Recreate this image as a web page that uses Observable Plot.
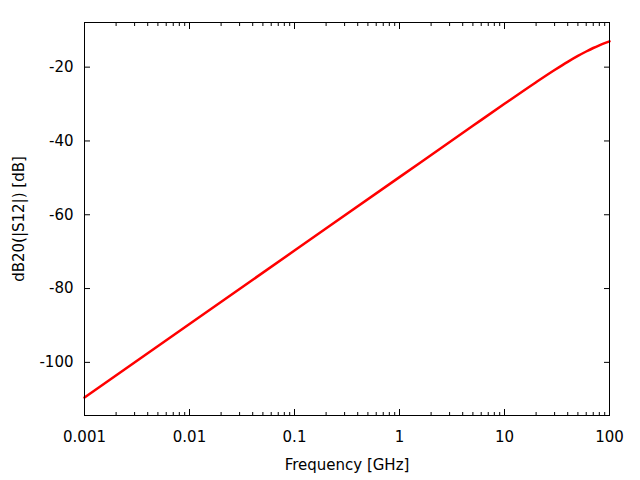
<!DOCTYPE html>
<html>
<head>
<meta charset="utf-8">
<script src="https://cdn.jsdelivr.net/npm/d3@7"></script>
<script src="https://cdn.jsdelivr.net/npm/@observablehq/plot@0.6"></script>
<style>
  html, body { margin: 0; padding: 0; background: white; }
</style>
</head>
<body>
<div id="chart"></div>
<script>
// Frequency in GHz and dB20(|S12|)
const freqGHz = [0.001, 0.01, 0.1, 1, 5, 10, 20, 30, 40, 50, 60, 70, 80, 90, 100];
const s12dB   = [-109.5, -89.6, -69.7, -49.8, -35.9, -29.94, -24.08, -20.78, -18.56, -16.96, -15.76, -14.81, -14.08, -13.49, -13.01];

const xMajorTicks = [0.001, 0.01, 0.1, 1, 10, 100];
const xTickLabels = ["0.001", "0.01", "0.1", "1", "10", "100"];
const xMinorTicks = [0.001, 0.01, 0.1, 1, 10].flatMap(d => [2,3,4,5,6,7,8,9].map(m => +(d * m).toPrecision(3)));
const yTicks = [-100, -80, -60, -40, -20];
const yTickLabels = ["-100", "-80", "-60", "-40", "-20"];

const data = freqGHz.map((f, i) => ({f, db: s12dB[i]}));

const fmtX = d => xTickLabels[xMajorTicks.indexOf(d)];
const fmtY = d => yTickLabels[yTicks.indexOf(d)];

const chart = Plot.plot({
  width: 640,
  height: 480,
  marginLeft: 84,
  marginRight: 31,
  marginTop: 22,
  marginBottom: 65,
  style: {fontFamily: "DejaVu Sans", fontSize: "15px", color: "black", background: "white"},
  x: {type: "log", domain: [0.001, 100]},
  y: {domain: [-114.4, -7.9]},
  marks: [
    // inward ticks on all four sides
    Plot.axisX({anchor: "bottom", ticks: xMajorTicks, tickSize: -6, tickFormat: () => "", label: null}),
    Plot.axisX({anchor: "bottom", ticks: xMinorTicks, tickSize: -3, tickFormat: () => "", label: null}),
    Plot.axisX({anchor: "top", ticks: xMajorTicks, tickSize: -6, tickFormat: () => "", label: null}),
    Plot.axisX({anchor: "top", ticks: xMinorTicks, tickSize: -3, tickFormat: () => "", label: null}),
    Plot.axisY({anchor: "left", ticks: yTicks, tickSize: -6, tickFormat: () => "", label: null}),
    Plot.axisY({anchor: "right", ticks: yTicks, tickSize: -6, tickFormat: () => "", label: null}),
    // labels
    Plot.axisX({anchor: "bottom", ticks: xMajorTicks, tickSize: 0, tickPadding: 16, tickFormat: fmtX,
      fontSize: 15, label: "Frequency [GHz]", labelAnchor: "center", labelOffset: 54, labelArrow: "none"}),
    Plot.axisY({anchor: "left", ticks: yTicks, tickSize: 0, tickPadding: 11, tickFormat: fmtY,
      fontSize: 15, label: "dB20(|S12|) [dB]", labelAnchor: "center", labelOffset: 71, labelArrow: "none"}),
    Plot.line(data, {x: "f", y: "db", stroke: "#ff0000", strokeWidth: 2.5, curve: "monotone-x"}),
    Plot.frame({stroke: "black", strokeWidth: 1})
  ]
});
document.getElementById("chart").appendChild(chart);
</script>
</body>
</html>
